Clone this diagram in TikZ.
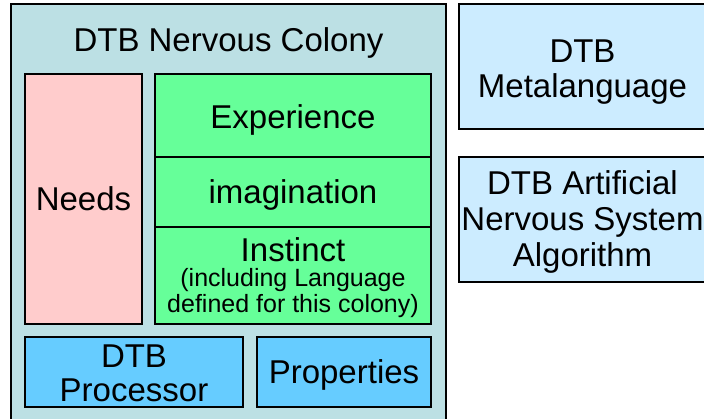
\documentclass[tikz,border=0pt]{standalone}
\usepackage{fontspec}
\setmainfont{Liberation Sans}
\usepackage{tikz}
\usetikzlibrary{positioning}

\definecolor{colonyfill}{RGB}{188,224,228}
\definecolor{needsfill}{RGB}{255,204,204}
\definecolor{mindfill}{RGB}{102,255,153}
\definecolor{partfill}{RGB}{102,204,255}
\definecolor{sidefill}{RGB}{204,236,255}

\newcommand{\smalltext}{\fontsize{25}{26}\selectfont}

\begin{document}
\begin{tikzpicture}[x=1pt, y=-1pt, font=\fontsize{33}{36}\selectfont]
    % Styles
    \tikzstyle{box} = [rectangle, draw=black, line width=1.5pt, inner sep=0pt, align=center, text height=23.6pt, text depth=0pt]
    \tikzstyle{colony} = [box, fill=colonyfill]
    \tikzstyle{needs} = [box, fill=needsfill]
    \tikzstyle{mind} = [box, fill=mindfill, minimum width=276pt]
    \tikzstyle{part} = [box, fill=partfill, minimum height=70pt]
    \tikzstyle{side} = [box, fill=sidefill, minimum width=247pt, minimum height=125pt]

    \useasboundingbox (0,0) rectangle (704,419);

    % Colony
    \node [colony, minimum width=435pt, minimum height=430pt] (colony) at (228.5,219) {};
    \node [anchor=base] (title) at (228.5,52) {DTB Nervous Colony};

    % Inner blocks
    \node [needs, minimum width=117pt, minimum height=250pt] (needs) at (83.5,199) {Needs};
    \node [mind, minimum height=83pt, text height=26.5pt] (experience) at (293,115.5) {Experience};
    \node [mind, minimum height=70pt] (imagination) at (293,192) {imagination};
    \node [mind, minimum height=97pt, text height=75pt] (instinct) at (293,275.5)
        {Instinct\\[-11pt]\smalltext (including Language\\[-10pt]\smalltext defined for this colony)};
    \node [part, minimum width=218pt, text height=60pt] (processor) at (134,372) {DTB\\[-1pt]Processor};
    \node [part, minimum width=174pt] (properties) at (344,372) {Properties};

    % Side blocks
    \node [side, text height=63pt] (meta) at (582.5,66.5) {DTB\\[-1pt]Metalanguage};
    \node [side, text height=95pt] (algorithm) at (582.5,219.5) {DTB Artificial\\Nervous System\\Algorithm};

\end{tikzpicture}
\end{document}
